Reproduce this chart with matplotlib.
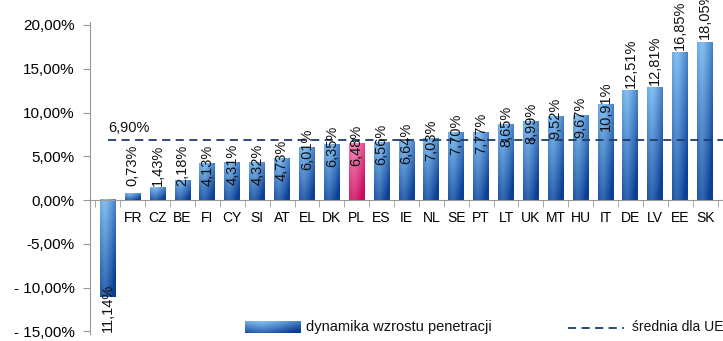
import numpy as np
import matplotlib
matplotlib.use("Agg")
import matplotlib.pyplot as plt
from matplotlib import font_manager
from matplotlib.colors import to_rgb
from matplotlib.lines import Line2D

# --- data -------------------------------------------------------------
countries = ["LU", "FR", "CZ", "BE", "FI", "CY", "SI", "AT", "EL", "DK",
             "PL", "ES", "IE", "NL", "SE", "PT", "LT", "UK", "MT", "HU",
             "IT", "DE", "LV", "EE", "SK"]
growth = [-11.14, 0.73, 1.43, 2.18, 4.13, 4.31, 4.32, 4.73, 6.01, 6.35,
          6.48, 6.56, 6.64, 7.03, 7.70, 7.77, 8.65, 8.99, 9.52, 9.67,
          10.91, 12.51, 12.81, 16.85, 18.05]
eu_average = 6.90
highlight = "PL"
yticks = [20, 15, 10, 5, 0, -5, -10, -15]
ytick_labels = ["20,00%", "15,00%", "10,00%", "5,00%", "0,00%",
                "-5,00%", "- 10,00%", "- 15,00%"]
legend_bar = "dynamika wzrostu penetracji"
legend_line = "średnia dla UE"

# --- fonts ------------------------------------------------------------
available = {f.name for f in font_manager.fontManager.ttflist}
regular = "Liberation Sans" if "Liberation Sans" in available else "DejaVu Sans"
narrow = "Liberation Sans Narrow" if "Liberation Sans Narrow" in available else regular


def pct(v):
    return f"{v:.2f}".replace(".", ",") + "%"


def gradient(light, dark, n=64):
    """RGB image: light at the top, dark at the bottom, darker on the right."""
    lt = np.array(to_rgb(light))
    dk = np.array(to_rgb(dark))
    tv = np.linspace(0, 1, n)[:, None]
    th = np.linspace(0, 1, n)[None, :]
    horiz = np.abs(th - 0.3) / 0.7
    a = np.clip(0.7 * tv + 0.5 * horiz ** 1.3, 0, 1)
    return lt * (1 - a[..., None]) + dk * a[..., None]


blue_img = gradient("#84c0f2", "#0b3f95")
pink_img = gradient("#f58abb", "#c80c5a")

fig = plt.figure(figsize=(7.23, 3.41), dpi=100)
# 0 % sits at 200 px from the top, 8.75 px per percentage point
px = 8.75
zero = 200.0
ymin, ymax = -15.3, 20.3
top_px = zero - ymax * px
bot_px = zero - ymin * px
ax = fig.add_axes([90 / 723, (341 - bot_px) / 341, 633 / 723,
                   (bot_px - top_px) / 341])
ax.set_xlim(-0.72, 24.72)
ax.set_ylim(ymin, ymax)

x = np.arange(len(countries))
width = 0.64
ax.bar(x, growth, width=width, color="none", edgecolor="none", zorder=2)
for xi, v, c in zip(x, growth, countries):
    img = pink_img if c == highlight else blue_img
    if v < 0:
        extent = (xi - width / 2, xi + width / 2, v, 0)
    else:
        extent = (xi - width / 2, xi + width / 2, 0, v)
    ax.imshow(img, extent=extent, aspect="auto", origin="upper",
              interpolation="bilinear", zorder=2)

# value labels, rotated
for xi, v in zip(x, growth):
    if v < 0:
        ax.text(xi, v + 1.6, pct(v).replace("-", ""), rotation=90, ha="center",
                va="top", fontsize=10.5, family=regular, color="#111111", zorder=4)
    elif v >= 12:
        ax.text(xi, v + 0.3, pct(v), rotation=90, ha="center", va="bottom",
                fontsize=10.5, family=regular, color="#111111", zorder=4)
    else:
        ax.text(xi, max(v, 4.2) - 0.2, pct(v), rotation=90, ha="center",
                va="center", fontsize=10.5, family=regular, color="#111111",
                zorder=4)

# EU average
avg_color = "#1e3c6c"
ax.plot([0, 24.72], [eu_average, eu_average], color=avg_color, lw=1.3,
        dashes=(4.5, 3), zorder=3)
ax.text(0.0, eu_average + 0.55, pct(eu_average), ha="left", va="bottom",
        fontsize=10.5, family=regular, color="#111111")

# axes styling
for s in ("top", "right"):
    ax.spines[s].set_visible(False)
ax.spines["left"].set_color("#9a9a9a")
ax.spines["bottom"].set_position(("data", 0))
ax.spines["bottom"].set_color("#9a9a9a")
ax.spines["bottom"].set_zorder(5)

ax.set_yticks(yticks)
ax.set_yticklabels(ytick_labels, family=regular, fontsize=11)
ax.tick_params(axis="y", length=5, color="#9a9a9a", pad=6)

ax.set_xticks(x)
ax.set_xticklabels(countries, family=narrow, fontsize=10)
ax.set_xticks(np.arange(-0.5, 24.6, 1.0), minor=True)
ax.tick_params(axis="x", which="major", length=0, pad=8)
ax.tick_params(axis="x", which="minor", length=5, color="#9a9a9a")
for lab in ax.get_xticklabels():
    lab.set_zorder(6)

# legend
sw = fig.add_axes([245 / 723, 1 - 333 / 341, 56 / 723, 12 / 341])
sw.imshow(blue_img, aspect="auto", interpolation="bilinear")
sw.axis("off")
fig.text(306 / 723, 1 - 327 / 341, legend_bar, ha="left", va="center",
         fontsize=10.5, family=narrow, color="#111111")
fig.add_artist(Line2D([568 / 723, 624 / 723], [1 - 328 / 341, 1 - 328 / 341],
                      color=avg_color, lw=1.3, dashes=(4.5, 3),
                      transform=fig.transFigure))
fig.text(632 / 723, 1 - 327 / 341, legend_line, ha="left", va="center",
         fontsize=10, family=narrow, color="#111111")

fig.savefig("out.png", dpi=100)
